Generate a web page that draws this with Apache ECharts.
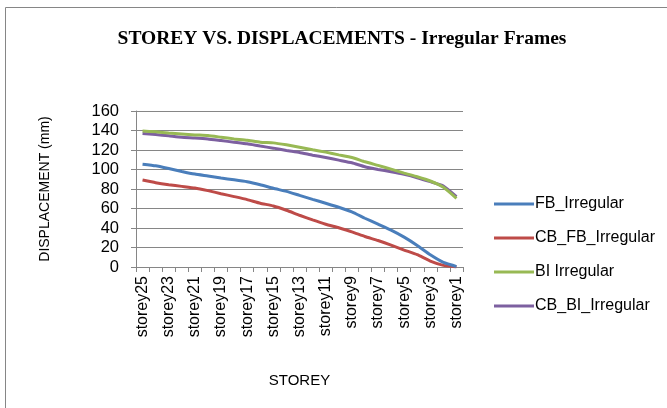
<!DOCTYPE html>
<html>
<head>
<meta charset="utf-8">
<script src="https://cdn.jsdelivr.net/npm/echarts@6/dist/echarts.min.js"></script>
<style>
html, body { margin: 0; padding: 0; background: #fff; }
#chart { width: 667px; height: 408px; }
</style>
</head>
<body>
<div id="chart"></div>
<script>
// storeys, top to bottom
var storeys = [];
for (var s = 25; s >= 1; s--) storeys.push('storey' + s);

var fbIrregular = [105.5, 103.8, 101, 98, 95.3, 93.3, 91.2, 89.5, 87.5, 84.4, 80.7, 77.6, 73.5,
	69.4, 65.4, 61.3, 56.5, 50, 43.9, 37.8, 30.6, 22.1, 12.6, 4.8, 0.5];
var cbFbIrregular = [89.2, 86.5, 84.4, 82.7, 81, 78.3, 75.2, 72.2, 69.1, 65.4, 62.6, 58.2, 53.1,
	48.3, 43.9, 40.2, 36.1, 31.3, 27.2, 22.5, 17.4, 12.6, 6.1, 1.7, 0];
var biIrregular = [139.6, 138.6, 137.5, 136.5, 135.5, 134.8, 133.1, 131.4, 130, 128, 127.3, 125.3, 122.9,
	120.2, 117.8, 115, 112.3, 107.9, 104.2, 100.4, 96.3, 92.6, 88.2, 81.7, 70.5];
var cbBiIrregular = [136.9, 135.8, 134.5, 133.1, 132.4, 131.4, 129.7, 128, 126.3, 124, 121.9, 119.5, 117.4,
	114.7, 112.3, 109.6, 106.9, 102.8, 100.1, 97.7, 95, 91.6, 87.5, 83, 72.2];

var seriesNames = ['FB_Irregular', 'CB_FB_Irregular', 'BI Irregular', 'CB_BI_Irregular'];
var seriesColors = ['#4a7ebb', '#be4b48', '#98b954', '#7d60a0'];
var seriesData = [fbIrregular, cbFbIrregular, biIrregular, cbBiIrregular];

var myChart = echarts.init(document.getElementById('chart'));

var series = [];
for (var i = 0; i < seriesNames.length; i++) {
	series.push({
		name: seriesNames[i],
		type: 'line',
		data: seriesData[i],
		symbol: 'none',
		smooth: 0.15,
		lineStyle: { width: 3, color: seriesColors[i] },
		itemStyle: { color: seriesColors[i] },
		z: 10 - i
	});
}

var option = {
	animation: false,
	textStyle: { fontFamily: 'Liberation Sans' },
	graphic: [{
		type: 'rect',
		shape: { x: 5.5, y: 7.5, width: 700, height: 420 },
		style: { fill: 'none', stroke: '#868686', lineWidth: 1 },
		silent: true
	}],
	title: {
		text: 'STOREY VS. DISPLACEMENTS - Irregular Frames',
		left: 337,
		top: 24,
		textAlign: 'center',
		textStyle: { fontFamily: 'Liberation Serif', fontSize: 19.5, fontWeight: 'bold', color: '#000' }
	},
	legend: {
		orient: 'vertical',
		left: 489,
		top: 190,
		itemGap: 16,
		itemWidth: 40,
		itemHeight: 3,
		icon: 'rect',
		data: seriesNames,
		textStyle: { fontSize: 16, color: '#000', padding: [0, 0, 0, -4], lineHeight: 18 }
	},
	grid: { left: 136, right: 204, top: 111, bottom: 141, containLabel: false },
	xAxis: {
		type: 'category',
		data: storeys,
		boundaryGap: true,
		name: 'STOREY',
		nameLocation: 'middle',
		nameGap: 106,
		nameTextStyle: { fontSize: 15, color: '#000' },
		axisLine: { lineStyle: { color: '#868686' } },
		axisTick: { show: true, interval: 0, length: 5, lineStyle: { color: '#868686' } },
		axisLabel: { interval: 1, rotate: 90, fontSize: 16, color: '#000', margin: 9 },
		splitLine: { show: false }
	},
	yAxis: {
		type: 'value',
		min: 0,
		max: 160,
		interval: 20,
		name: 'DISPLACEMENT (mm)',
		nameLocation: 'middle',
		nameGap: 84,
		nameRotate: 90,
		nameTextStyle: { fontSize: 14, color: '#000' },
		axisLine: { show: true, lineStyle: { color: '#868686' } },
		axisTick: { show: true, length: 5, lineStyle: { color: '#868686' } },
		axisLabel: { fontSize: 16.5, color: '#000', margin: 17 },
		splitLine: { lineStyle: { color: '#868686' } }
	},
	series: series
};

myChart.setOption(option);
</script>
</body>
</html>
